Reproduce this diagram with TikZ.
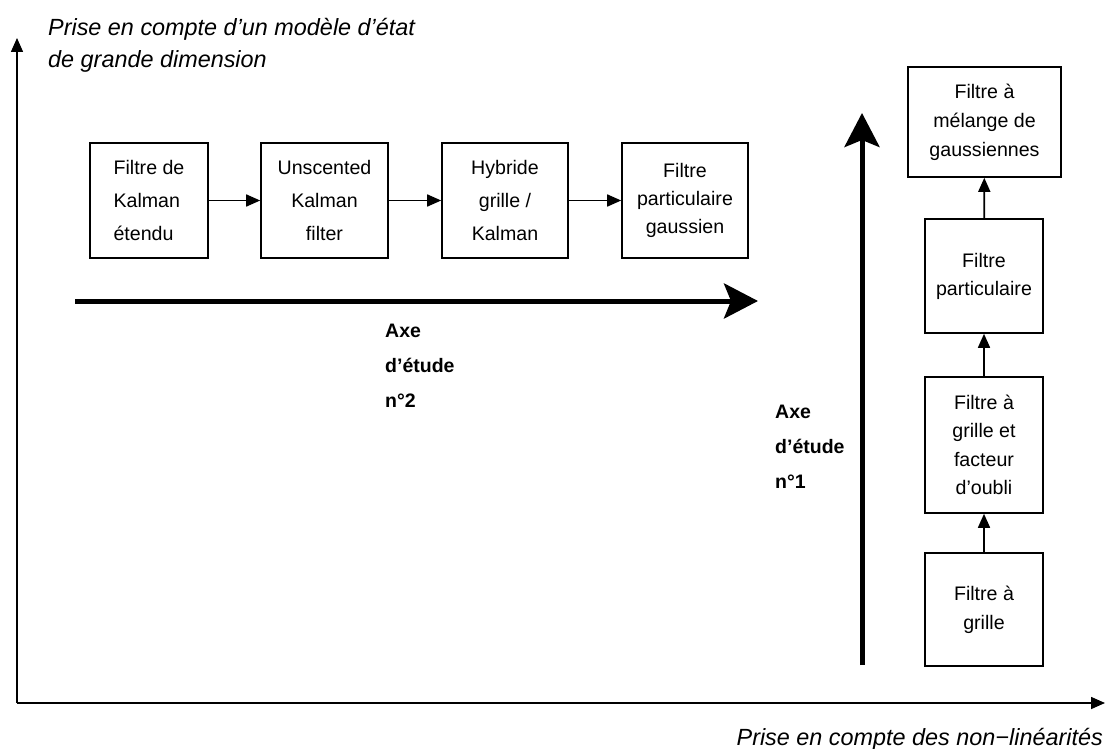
\documentclass[tikz,border=0pt]{standalone}
\usepackage{fontspec}
\setmainfont{Liberation Sans}
\usepackage{tikz}
\usetikzlibrary{arrows.meta, positioning}
\tikzset{filtre/.style={draw, line width=1.6pt, inner sep=0pt, align=center, font=\fontsize{19.6}{33}\selectfont},
  axe/.style={line width=1.6pt},
  grosaxe/.style={line width=5pt, -{Stealth[length=34pt,width=35pt,inset=7pt]}},
  etude/.style={align=left, anchor=north west, inner sep=0pt, font=\bfseries\fontsize{19.5}{35}\selectfont},
  titre/.style={inner sep=0pt, font=\itshape\fontsize{23.4}{32}\selectfont}}

\begin{document}
\begin{tikzpicture}[x=1pt, y=-1pt, >={Triangle[length=14pt,width=12pt]}]
    \useasboundingbox (0,0) rectangle (1106,749);
    \coordinate (o) at (17,703);
    \coordinate (ox) at (1105,703);
    \coordinate (oy) at (17,38);
    \draw[axe, ->] (o) -- (ox);
    \draw[axe, ->] (o) -- (oy);
    \node[titre, anchor=north west, align=left] (t-y) at (48,18.5) {Prise en compte d’un modèle d’état\\de grande dimension};
    \node[titre, anchor=base east] (t-x) at (1103,745) {Prise en compte des non−linéarités};

    % axe d'etude n°2
    \node[filtre, align=left, minimum width=118pt, minimum height=115pt] (h-1) at (149,200.5) {Filtre de\\Kalman\\étendu};
    \node[filtre, minimum width=127pt, minimum height=115pt] (h-2) at (324.5,200.5) {Unscented\\Kalman\\filter};
    \node[filtre, minimum width=126pt, minimum height=115pt] (h-3) at (505,200.5) {Hybride\\grille /\\Kalman};
    \node[filtre, minimum width=126pt, minimum height=115pt, font=\fontsize{19.6}{28}\selectfont] (h-4) at (685,200.5) {Filtre\\particulaire\\gaussien};
    \draw[axe, ->] (h-1) -- (h-2);
    \draw[axe, ->] (h-2) -- (h-3);
    \draw[axe, ->] (h-3) -- (h-4);
    \coordinate (a2-s) at (75,301);
    \coordinate (a2-e) at (758,301);
    \draw[grosaxe] (a2-s) -- (a2-e);
    \node[etude] (n-2) at (385,324) {Axe\\d’étude\\n°2};

    % axe d'etude n°1
    \node[filtre, minimum width=118pt, minimum height=113pt, font=\fontsize{19.6}{29}\selectfont] (v-1) at (984,609.5) {Filtre à\\grille};
    \node[filtre, minimum width=118pt, minimum height=136pt, font=\fontsize{19.6}{28.5}\selectfont] (v-2) at (984,445) {Filtre à\\grille et\\facteur\\d’oubli};
    \node[filtre, minimum width=118pt, minimum height=114pt, font=\fontsize{19.6}{28}\selectfont] (v-3) at (984,276) {Filtre\\particulaire};
    \node[filtre, minimum width=153pt, minimum height=110pt, font=\fontsize{19.6}{29}\selectfont] (v-4) at (984.5,122) {Filtre à\\mélange de\\gaussiennes};
    \draw[axe, ->] (v-1) -- (v-2);
    \draw[axe, ->] (v-2) -- (v-3);
    \draw[axe, ->] (v-3) -- (v-4);
    \coordinate (a1-s) at (862,665);
    \coordinate (a1-e) at (862,113);
    \draw[grosaxe] (a1-s) -- (a1-e);
    \node[etude] (n-1) at (775,405) {Axe\\d’étude\\n°1};
\end{tikzpicture}
\end{document}
